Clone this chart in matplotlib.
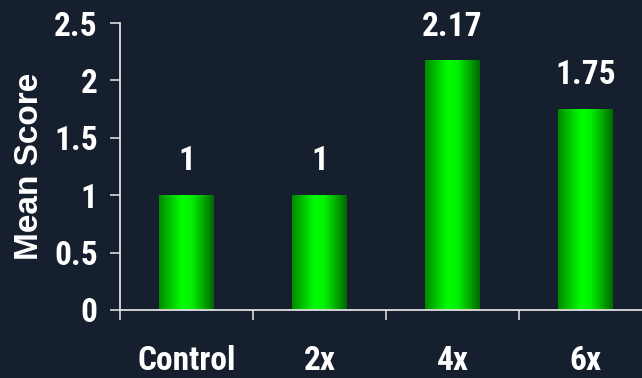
import numpy as np
import matplotlib
matplotlib.use("Agg")
import matplotlib.pyplot as plt
from matplotlib.colors import LinearSegmentedColormap

categories = ["Control", "2x", "4x", "6x"]
scores = [1, 1, 2.17, 1.75]
value_labels = ["1", "1", "2.17", "1.75"]
yticks = [0, 0.5, 1, 1.5, 2, 2.5]
ytick_labels = ["0", "0.5", "1", "1.5", "2", "2.5"]

bg = "#161f2d"
fg = "white"
narrow = ["Liberation Sans Narrow", "Roboto Condensed", "Barlow Semi Condensed", "DejaVu Sans"]
wide = ["Liberation Sans", "DejaVu Sans"]

fig = plt.figure(figsize=(6.42, 3.78), dpi=100, facecolor=bg)
W, H = 642, 378
ax = fig.add_axes([120 / W, (H - 310) / H, 532 / W, 287 / H], facecolor=bg)

x = np.arange(len(categories))
bars = ax.bar(x, scores, width=0.41, color="none", edgecolor="none", zorder=2)

# horizontal shading for each bar: darker edges, bright green core
shade = LinearSegmentedColormap.from_list(
    "shade", [(0.0, "#008a00"), (0.42, "#00ff00"), (0.6, "#00f000"), (1.0, "#006800")])
grad = np.linspace(0, 1, 256).reshape(1, -1)
for b in bars:
    x0, y0 = b.get_x(), b.get_y()
    ax.imshow(grad, cmap=shade, aspect="auto", interpolation="bicubic",
              extent=(x0, x0 + b.get_width(), y0, y0 + b.get_height()), zorder=2)

for b, lab in zip(bars, value_labels):
    ax.annotate(lab, (b.get_x() + b.get_width() / 2, b.get_height()),
                xytext=(0, 13), textcoords="offset points", ha="center", va="bottom",
                color=fg, fontsize=24, fontweight="bold", family=narrow)

ax.set_xlim(-0.5, 3.5)
ax.set_ylim(0, 2.5)

ax.set_yticks(yticks)
ax.set_yticklabels(ytick_labels, family=narrow, fontsize=24, fontweight="bold", color=fg)
ax.set_xticks(x)
ax.set_xticklabels(categories, family=narrow, fontsize=24, fontweight="bold", color=fg)
ax.tick_params(axis="x", length=0, pad=25)
ax.set_xticks(np.arange(-0.5, 4, 1), minor=True)
ax.tick_params(axis="x", which="minor", length=7.5, width=1.2, color="#d8d8d8", direction="out")
ax.tick_params(axis="y", length=7, width=1.2, color="#d8d8d8", pad=9)

for s in ["top", "right"]:
    ax.spines[s].set_visible(False)
for s in ["left", "bottom"]:
    ax.spines[s].set_color("#e0e0e0")
    ax.spines[s].set_linewidth(1.3)

ax.set_ylabel("Mean Score", family=wide, fontsize=24, fontweight="bold", color=fg)
ax.yaxis.set_label_coords((29 - 120) / 532, 0.5)
ax.yaxis.label.set_verticalalignment("center")

fig.savefig("out.png", dpi=100, facecolor=bg)
